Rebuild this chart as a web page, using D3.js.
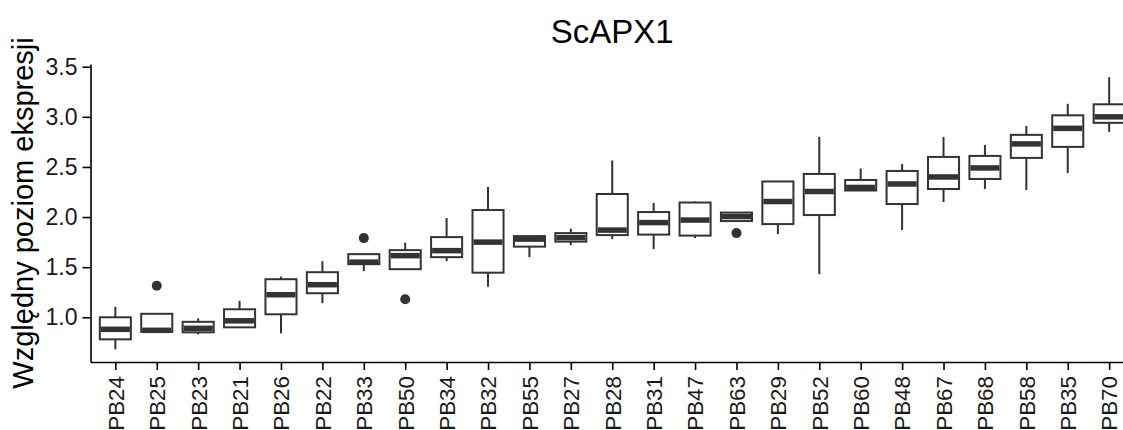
<!DOCTYPE html>
<html>
<meta charset="utf-8">
<title>ScAPX1</title>
<style>
body { margin: 0; background: #fff; }
svg { font-family: "Liberation Sans", Arial, sans-serif; }
.axis path, .axis line { stroke: #000; stroke-width: 1.6px; }
.axis text { fill: #1a1a1a; font-size: 23px; }
.x.axis text { font-size: 22.4px; }
.box rect { fill: #fff; stroke: #333; stroke-width: 2px; }
.box line.whisker { stroke: #333; stroke-width: 2px; }
.box line.median { stroke: #333; stroke-width: 5.5px; }
.box circle { fill: #333; }
</style>
<script src="https://d3js.org/d3.v7.min.js"></script>
<body>
<script>
// samples in plotted order
const categories = ["PB24","PB25","PB23","PB21","PB26","PB22","PB33","PB50","PB34","PB32","PB55","PB27","PB28",
  "PB31","PB47","PB63","PB29","PB52","PB60","PB48","PB67","PB68","PB58","PB35","PB70"];

const whiskerLow  = [0.68,0.85,0.83,0.90,0.84,1.14,1.46,1.48,1.56,1.305,1.60,1.72,1.78,1.68,1.79,1.96,1.83,1.43,2.26,1.87,2.15,2.28,2.27,2.44,2.85];
const q1          = [0.78,0.855,0.85,0.90,1.03,1.24,1.53,1.48,1.60,1.445,1.705,1.755,1.82,1.825,1.815,1.96,1.93,2.02,2.265,2.13,2.28,2.38,2.59,2.70,2.94];
const medians     = [0.88,0.87,0.89,0.965,1.225,1.325,1.55,1.615,1.665,1.75,1.78,1.795,1.87,1.945,1.97,2.005,2.155,2.255,2.295,2.33,2.40,2.49,2.73,2.885,3.00];
const q3          = [1.00,1.035,0.955,1.08,1.38,1.45,1.63,1.67,1.80,2.07,1.81,1.84,2.23,2.05,2.145,2.045,2.355,2.43,2.37,2.46,2.60,2.61,2.82,3.015,3.125];
const whiskerHigh = [1.105,1.035,0.99,1.165,1.405,1.56,1.63,1.745,1.99,2.30,1.81,1.885,2.565,2.14,2.155,2.05,2.355,2.80,2.485,2.53,2.80,2.72,2.91,3.13,3.395];
const outliers    = [[],[1.315],[],[],[],[],[1.79],[1.18],[],[],[],[],[],[],[],[1.84],[],[],[],[],[],[],[],[],[]];

const yTicks = [1.0, 1.5, 2.0, 2.5, 3.0, 3.5];

const width = 1123, height = 430;
const panel = {left: 90.5, right: 1134, top: 64, bottom: 362};

const svg = d3.select("body").append("svg")
    .attr("width", width)
    .attr("height", height);

const x = d3.scalePoint()
    .domain(categories)
    .range([panel.left, panel.right])
    .padding(0.6);

const y = d3.scaleLinear()
    .domain([0.554, 3.527])
    .range([panel.bottom, panel.top]);

const boxW = x.step() * 0.75;

// boxes
const data = categories.map((c, i) => ({
  name: c, lo: whiskerLow[i], q1: q1[i], med: medians[i], q3: q3[i], hi: whiskerHigh[i], out: outliers[i]
}));

const g = svg.selectAll("g.box").data(data).enter().append("g")
    .attr("class", "box")
    .attr("transform", d => `translate(${x(d.name)},0)`);

g.append("line").attr("class", "whisker")
    .attr("y1", d => y(d.hi)).attr("y2", d => y(d.q3));
g.append("line").attr("class", "whisker")
    .attr("y1", d => y(d.q1)).attr("y2", d => y(d.lo));
g.append("rect")
    .attr("x", -boxW / 2)
    .attr("width", boxW)
    .attr("y", d => y(d.q3))
    .attr("height", d => y(d.q1) - y(d.q3));
g.append("line").attr("class", "median")
    .attr("x1", -boxW / 2 + 1).attr("x2", boxW / 2 - 1)
    .attr("y1", d => y(d.med)).attr("y2", d => y(d.med));
g.selectAll("circle").data(d => d.out).enter().append("circle")
    .attr("cy", v => y(v))
    .attr("r", 5);

// axes
svg.append("g")
    .attr("class", "y axis")
    .attr("transform", `translate(${panel.left},0)`)
    .call(d3.axisLeft(y).tickValues(yTicks).tickFormat(d3.format(".1f")).tickSize(8).tickSizeOuter(0).tickPadding(5));

const xAxis = svg.append("g")
    .attr("class", "x axis")
    .attr("transform", `translate(0,${panel.bottom})`)
    .call(d3.axisBottom(x).tickSize(8).tickSizeOuter(0));

xAxis.selectAll("text")
    .attr("transform", "rotate(-90)")
    .attr("text-anchor", "end")
    .attr("x", -14)
    .attr("y", 0)
    .attr("dy", "0.35em");

// titles
svg.append("text")
    .attr("x", (panel.left + panel.right) / 2)
    .attr("y", 43)
    .attr("text-anchor", "middle")
    .style("font-size", "33px")
    .attr("fill", "#000")
    .text("ScAPX1");

svg.append("text")
    .attr("transform", `translate(33,${(panel.top + panel.bottom) / 2}) rotate(-90)`)
    .attr("text-anchor", "middle")
    .style("font-size", "29px")
    .attr("fill", "#000")
    .text("Względny poziom ekspresji");
</script>
</body>
</html>
